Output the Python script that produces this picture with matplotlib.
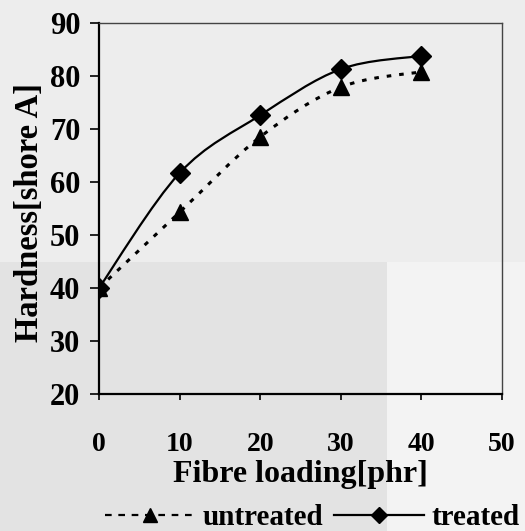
import numpy as np
from matplotlib import pyplot as plt
from matplotlib.path import Path
from matplotlib.patches import PathPatch, Rectangle
from matplotlib.lines import Line2D

loading = [0, 10, 20, 30, 40]
untreated = [40, 54.3, 68.5, 77.9, 80.8]
treated = [40, 61.7, 72.6, 81.3, 83.8]


# smoothed line like the spreadsheet one: catmull-rom segments as cubic beziers
def smoothPath(xs, ys):
    pts = np.column_stack([xs, ys]).astype(float)
    ext = np.vstack([pts[0], pts, pts[-1]])
    verts = [pts[0]]
    codes = [Path.MOVETO]
    for i in range(1, len(ext) - 2):
        p0, p1, p2, p3 = ext[i - 1], ext[i], ext[i + 1], ext[i + 2]
        verts += [p1 + (p2 - p0) / 6, p2 - (p3 - p1) / 6, p2]
        codes += [Path.CURVE4] * 3
    return Path(verts, codes)


plt.rcParams['font.family'] = ['Liberation Serif', 'DejaVu Serif']
plt.rcParams['font.weight'] = 'bold'

fig = plt.figure(figsize=(5.25, 5.31), dpi=100)
fig.patch.set_facecolor('#ededed')
# scanned page: slightly darker block in the lower left
fig.patches.append(Rectangle((0, 0), 387 / 525, 0.507, transform=fig.transFigure,
                             facecolor='#e3e3e3', edgecolor='none', zorder=-10))
fig.patches.append(Rectangle((387 / 525, 0), 1 - 387 / 525, 0.507, transform=fig.transFigure,
                             facecolor='#f3f3f3', edgecolor='none', zorder=-10))

ax = fig.add_axes([0.1886, 0.258, 0.7676, 0.6987])
ax.set_facecolor('none')

ax.add_patch(PathPatch(smoothPath(loading, untreated), fill=False, color='black',
                       lw=2.2, linestyle=(0, (1.5, 2.6))))
ax.add_patch(PathPatch(smoothPath(loading, treated), fill=False, color='black', lw=1.6))
ax.plot(loading, untreated, linestyle='none', marker='^', ms=11, color='black')
ax.plot(loading, treated, linestyle='none', marker='D', ms=10, color='black')

ax.set_xlim(0, 50)
ax.set_ylim(20, 90)
ax.set_xticks(range(0, 51, 10))
ax.set_yticks(range(20, 91, 10))
ax.tick_params(axis='y', direction='out', length=6.5, width=1.2, labelsize=22, pad=7)
ax.tick_params(axis='x', direction='out', length=4.5, width=1.2, labelsize=20, pad=23)
for s in ['left', 'bottom']:
    ax.spines[s].set_linewidth(1.6)
for s in ['top', 'right']:
    ax.spines[s].set_linewidth(1.0)
    ax.spines[s].set_color('#444444')

ax.set_xlabel('Fibre loading[phr]', fontsize=23, fontweight='bold', labelpad=2)
fig.text(0.056, 0.60, 'Hardness[shore A]', rotation=90, fontsize=23.5, fontweight='bold',
         ha='center', va='center')

hUn = Line2D([], [], color='black', lw=1.6, linestyle=(0, (3, 3)), marker='^', ms=10)
hTr = Line2D([], [], color='black', lw=1.6, marker='D', ms=8)
fig.legend(handles=[hUn, hTr], labels=['untreated', 'treated'], ncol=2, frameon=False,
           loc='center', bbox_to_anchor=(0.595, 0.025), fontsize=21, handlelength=3.1,
           handletextpad=0.25, columnspacing=0.35, borderaxespad=0)

fig.savefig('out.png', dpi=100, facecolor=fig.get_facecolor())
